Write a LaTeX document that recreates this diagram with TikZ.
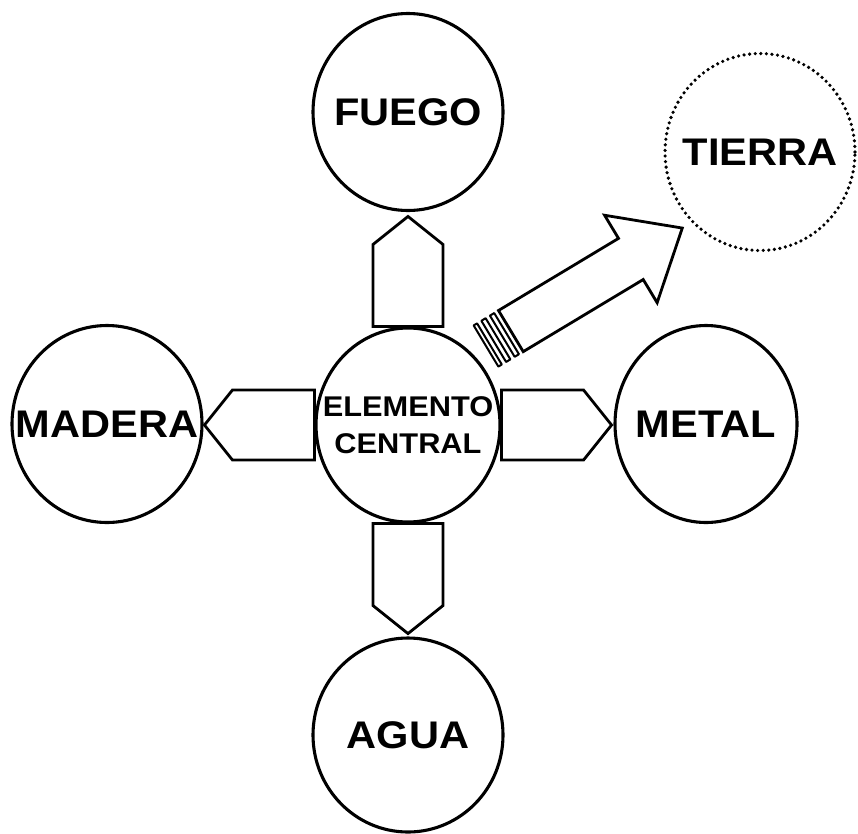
\documentclass[tikz,border=0pt]{standalone}
\usepackage{fontspec}
\setmainfont{Liberation Sans}
\newfontfamily\rotulo[FakeStretch=1.08]{Liberation Sans}
\usetikzlibrary{shapes.geometric}

\tikzset{
    elemento/.style={ellipse, draw, line width=3.1pt, inner sep=0pt,
        minimum width=190pt, minimum height=197pt},
    every label/.style={inner sep=0pt,
        font=\rotulo\bfseries\fontsize{38.5}{40}\selectfont},
    punteado/.style={draw=none, postaction={draw, line width=3.6pt, line cap=round,
        dash pattern=on 0pt off 5.6pt}},
    bloque/.style={draw, fill=white, line width=2.8pt, line join=miter},
    franja/.style={draw, fill=white, line width=2pt},
}

\begin{document}
\begin{tikzpicture}[x=1pt, y=-1pt, line join=round]
    \useasboundingbox (0,0) rectangle (858,833);

    % parameters of the block arrows
    \def\largo{110}  % base to tip
    \def\hombro{82}  % base to shoulder
    \def\ancho{35}   % half width

    % elements
    \node[elemento, label=center:FUEGO] (fuego) at (408,112) {};
    \node[elemento, punteado, label=center:TIERRA] (tierra) at (760,152) {};
    \node[elemento, label=center:MADERA] (madera) at (107,424) {};
    \node[elemento, minimum width=184pt, minimum height=194pt,
          label={[align=center, font=\rotulo\bfseries\fontsize{28.5}{37}\selectfont]
          center:ELEMENTO\\CENTRAL}] (centro) at (408,425) {};
    \node[elemento, minimum width=182pt, label=center:METAL] (metal) at (706,424) {};
    \node[elemento, minimum height=194pt, label=center:AGUA] (agua) at (408,735) {};

    % block arrows out of the central element
    \foreach \lado/\ang in {north/90, west/180, east/0, south/-90}{
        \begin{scope}[shift={(centro.\lado)}, rotate=\ang]
            \draw[bloque] (0,-\ancho) -- (\hombro,-\ancho) -- (\largo,0)
                -- (\hombro,\ancho) -- (0,\ancho) -- cycle;
        \end{scope}
    }

    % striped arrow towards tierra
    \coordinate (cola) at (486,346);
    \begin{scope}[shift={(cola)}, rotate=31]
        \foreach \a/\b in {0/4, 9/14, 19/24}
            \draw[franja] (\a,-24) rectangle (\b,24);
        \draw[bloque] (29,-24) -- (169,-24) -- (169,-51) -- (229,0)
            -- (169,51) -- (169,24) -- (29,24) -- cycle;
    \end{scope}
\end{tikzpicture}
\end{document}
